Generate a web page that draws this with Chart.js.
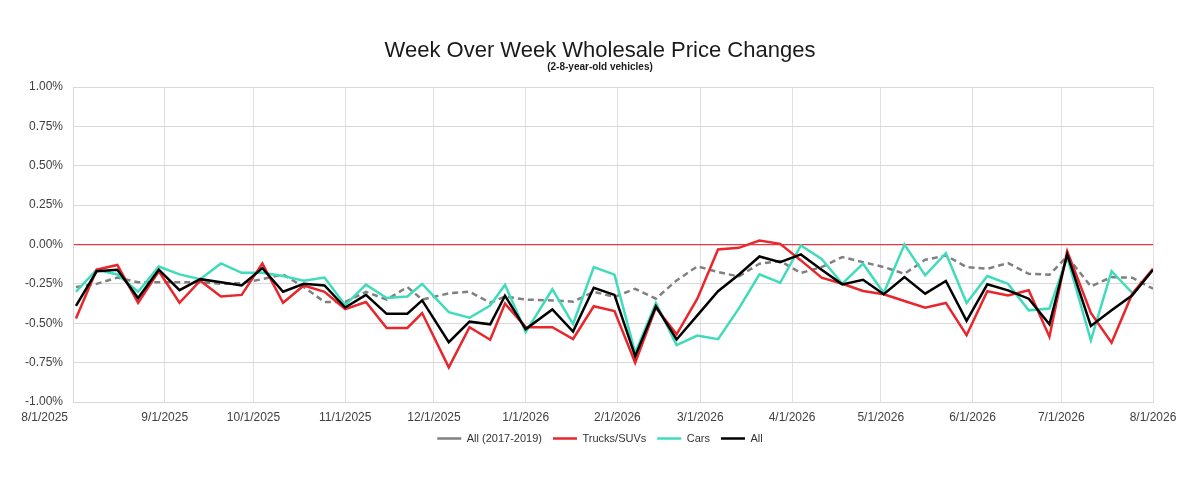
<!DOCTYPE html>
<html>
<head>
<meta charset="utf-8">
<title>Week Over Week Wholesale Price Changes</title>
<script src="https://cdn.jsdelivr.net/npm/chart.js@4.4.1/dist/chart.umd.min.js"></script>
<style>
    html, body { margin: 0; padding: 0; background: #fff; }
    #graficoPrecos { display: block; }
</style>
</head>
<body>
<canvas id="graficoPrecos" width="1200" height="484"></canvas>
<script>
var weekDates = [
    '8/2/2025', '8/9/2025', '8/16/2025', '8/23/2025', '8/30/2025', '9/6/2025', '9/13/2025', '9/20/2025',
    '9/27/2025', '10/4/2025', '10/11/2025', '10/18/2025', '10/25/2025', '11/1/2025', '11/8/2025', '11/15/2025',
    '11/22/2025', '11/27/2025', '12/6/2025', '12/13/2025', '12/20/2025', '12/25/2025', '1/1/2026', '1/10/2026',
    '1/17/2026', '1/24/2026', '1/31/2026', '2/7/2026', '2/14/2026', '2/21/2026', '2/28/2026', '3/7/2026',
    '3/14/2026', '3/21/2026', '3/28/2026', '4/4/2026', '4/11/2026', '4/18/2026', '4/25/2026', '5/2/2026',
    '5/9/2026', '5/16/2026', '5/23/2026', '5/30/2026', '6/6/2026', '6/13/2026', '6/20/2026', '6/27/2026',
    '7/3/2026', '7/11/2026', '7/18/2026', '7/25/2026', '8/1/2026'
];

// valores em %
var allPreCovid = [
    -0.27, -0.25, -0.21, -0.24, -0.24, -0.24, -0.24, -0.25, -0.245, -0.22, -0.19, -0.27, -0.365, -0.365,
    -0.30, -0.35, -0.27, -0.35, -0.31, -0.30, -0.37, -0.33, -0.35, -0.355, -0.363, -0.30, -0.333, -0.281,
    -0.344, -0.228, -0.139, -0.175, -0.203, -0.122, -0.105, -0.181, -0.143, -0.08, -0.112, -0.143, -0.186,
    -0.097, -0.07, -0.143, -0.154, -0.118, -0.186, -0.192, -0.076, -0.266, -0.207, -0.211, -0.281
];
var trucksSuvs = [
    -0.47, -0.16, -0.13, -0.37, -0.17, -0.37, -0.23, -0.33, -0.32, -0.12, -0.37, -0.26, -0.30, -0.41,
    -0.365, -0.53, -0.53, -0.435, -0.78, -0.525, -0.605, -0.375, -0.525, -0.525, -0.60, -0.392, -0.423, -0.751,
    -0.401, -0.57, -0.344, -0.032, -0.021, 0.025, 0.004, -0.101, -0.211, -0.249, -0.295, -0.316, -0.359,
    -0.401, -0.371, -0.576, -0.297, -0.323, -0.291, -0.586, -0.042, -0.435, -0.624, -0.312, -0.154
];
var cars = [
    -0.30, -0.16, -0.19, -0.30, -0.14, -0.19, -0.22, -0.12, -0.18, -0.18, -0.20, -0.23, -0.21, -0.385,
    -0.255, -0.34, -0.33, -0.25, -0.43, -0.465, -0.387, -0.255, -0.556, -0.284, -0.505, -0.143, -0.191, -0.688,
    -0.371, -0.639, -0.578, -0.601, -0.407, -0.19, -0.243, -0.006, -0.091, -0.249, -0.122, -0.308, 0.0,
    -0.196, -0.055, -0.371, -0.2, -0.249, -0.418, -0.407, -0.08, -0.608, -0.169, -0.308, null
];
var allVehicles = [
    -0.39, -0.17, -0.16, -0.34, -0.16, -0.29, -0.22, -0.24, -0.26, -0.15, -0.30, -0.25, -0.26, -0.40,
    -0.32, -0.44, -0.44, -0.355, -0.62, -0.49, -0.507, -0.325, -0.537, -0.412, -0.553, -0.275, -0.32, -0.709,
    -0.392, -0.603, -0.45, -0.297, -0.192, -0.076, -0.112, -0.063, -0.16, -0.253, -0.224, -0.316, -0.207,
    -0.312, -0.232, -0.485, -0.253, -0.291, -0.344, -0.506, -0.063, -0.517, -0.418, -0.323, -0.16
];

var xTickLabels = [
    '8/1/2025', '9/1/2025', '10/1/2025', '11/1/2025', '12/1/2025', '1/1/2026', '2/1/2026',
    '3/1/2026', '4/1/2026', '5/1/2026', '6/1/2026', '7/1/2026', '8/1/2026'
];
var yTickValues = [-1, -0.75, -0.5, -0.25, 0, 0.25, 0.5, 0.75, 1];

(function (window, document) {
    'use strict';

    var Chart = window.Chart;
    var fonte = '"Liberation Sans", Arial, Helvetica, sans-serif';

    Chart.defaults.font.family = fonte;
    Chart.defaults.color = '#404040';

    function toTime(str) {
        var p = str.split('/');
        return Date.UTC(+p[2], +p[0] - 1, +p[1]);
    }

    function pontos(values) {
        return weekDates.map(function (d, i) {
            return { x: toTime(d), y: values[i] };
        });
    }

    function serie(label, values, cor, ordem, dash) {
        return {
            label: label,
            data: pontos(values),
            borderColor: cor,
            backgroundColor: cor,
            borderWidth: 2.5,
            borderDash: dash || [],
            pointRadius: 0,
            pointHoverRadius: 0,
            tension: 0,
            fill: false,
            order: ordem
        };
    }

    var $grafico = document.getElementById('graficoPrecos');

    new Chart($grafico, {
        type: 'line',
        data: {
            datasets: [
                serie('All (2017-2019)', allPreCovid, '#808080', 3, [6, 4]),
                serie('Trucks/SUVs', trucksSuvs, '#e8262b', 1),
                serie('Cars', cars, '#3fdbbb', 2),
                serie('All', allVehicles, '#000000', 0)
            ]
        },
        options: {
            responsive: false,
            animation: false,
            events: [],
            layout: {
                padding: { left: 0, right: 0, top: 0, bottom: 30 }
            },
            plugins: {
                title: {
                    display: true,
                    text: 'Week Over Week Wholesale Price Changes',
                    color: '#1a1a1a',
                    font: { size: 22, weight: 'normal', lineHeight: 1 },
                    padding: { top: 40, bottom: 0 }
                },
                subtitle: {
                    display: true,
                    text: '(2-8-year-old vehicles)',
                    color: '#1a1a1a',
                    font: { size: 10, weight: 'bold', lineHeight: 1 },
                    padding: { top: 0, bottom: 15 }
                },
                legend: {
                    position: 'bottom',
                    labels: {
                        usePointStyle: true,
                        pointStyle: 'line',
                        pointStyleWidth: 24,
                        padding: 11,
                        color: '#333333',
                        font: { size: 11 },
                        sort: function (a, b) {
                            return a.datasetIndex - b.datasetIndex;
                        }
                    }
                },
                tooltip: { enabled: false }
            },
            scales: {
                x: {
                    type: 'linear',
                    min: toTime(xTickLabels[0]),
                    max: toTime(xTickLabels[xTickLabels.length - 1]),
                    afterBuildTicks: function (scale) {
                        scale.ticks = xTickLabels.map(function (l) {
                            return { value: toTime(l) };
                        });
                    },
                    afterFit: function (scale) {
                        scale.height = 20;
                    },
                    grid: { color: '#e0e0e0', drawTicks: false, tickLength: 0 },
                    border: { color: '#d9d9d9' },
                    ticks: {
                        autoSkip: false,
                        maxRotation: 0,
                        padding: 8,
                        font: { size: 12 },
                        callback: function (value, index) {
                            // o primeiro rotulo fica deslocado para a esquerda no original
                            if (index === 0) {
                                return xTickLabels[0] + new Array(18).join(' ');
                            }
                            return xTickLabels[index];
                        }
                    }
                },
                y: {
                    min: -1,
                    max: 1,
                    afterBuildTicks: function (scale) {
                        scale.ticks = yTickValues.map(function (v) {
                            return { value: v };
                        });
                    },
                    afterFit: function (scale) {
                        scale.width = 73;
                    },
                    grid: {
                        drawTicks: false,
                        tickLength: 0,
                        color: function (c) {
                            return c.tick && c.tick.value === 0 ? '#e63a3f' : '#d9d9d9';
                        },
                        lineWidth: function (c) {
                            return c.tick && c.tick.value === 0 ? 1.2 : 1;
                        }
                    },
                    border: { color: '#d9d9d9' },
                    ticks: {
                        padding: 10,
                        font: { size: 12 },
                        callback: function (value) {
                            return value.toFixed(2) + '%';
                        }
                    }
                },
                // margem da direita, so para deixar titulo e legenda centrados na pagina
                margemDireita: {
                    position: 'right',
                    afterFit: function (scale) {
                        scale.width = 47;
                    },
                    grid: { drawOnChartArea: false, drawTicks: false },
                    border: { display: false },
                    ticks: { display: false }
                }
            }
        }
    });
})(window, document);
</script>
</body>
</html>
